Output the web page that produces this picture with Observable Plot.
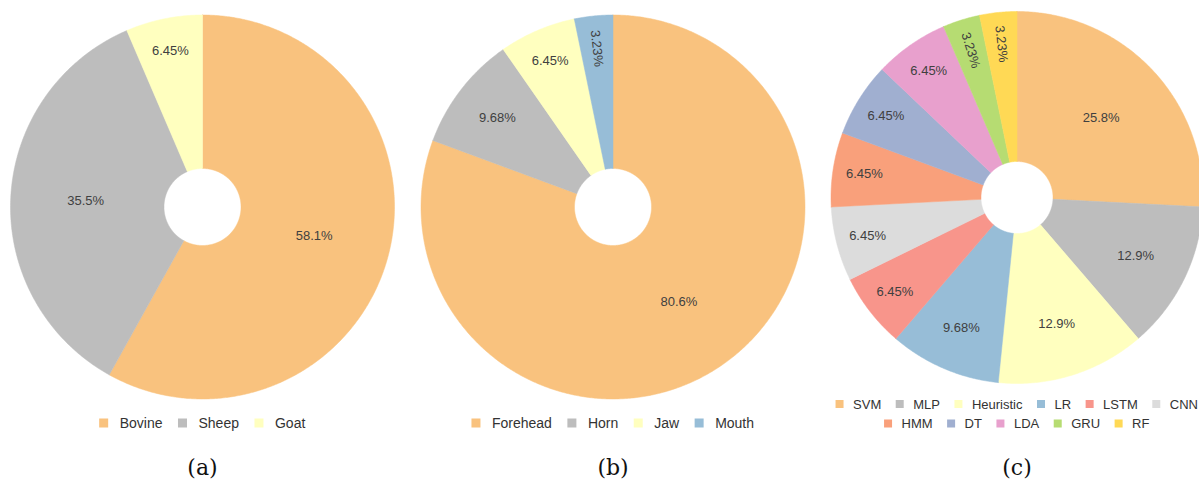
<!DOCTYPE html>
<html>
<head>
<meta charset="utf-8">
<script src="https://cdn.jsdelivr.net/npm/d3@7"></script>
<script src="https://cdn.jsdelivr.net/npm/@observablehq/plot@0.6"></script>
<style>
  html, body { margin: 0; padding: 0; background: #fff; }
  #chart { width: 1199px; height: 483px; }
</style>
</head>
<body>
<div id="chart"></div>
<script>
// ---------- data ----------
const animals = ["Bovine", "Sheep", "Goat"];
const animalShares = [58.1, 35.5, 6.45];

const parts = ["Forehead", "Horn", "Jaw", "Mouth"];
const partShares = [80.6, 9.68, 6.45, 3.23];

const methods = ["SVM", "MLP", "Heuristic", "LR", "LSTM", "CNN", "HMM", "DT", "LDA", "GRU", "RF"];
const methodShares = [25.8, 12.9, 12.9, 9.68, 6.45, 6.45, 6.45, 6.45, 6.45, 3.23, 3.23];

const captions = ["(a)", "(b)", "(c)"];

// ---------- styles ----------
const animalColors = ["#f9c27e", "#bdbdbd", "#ffffbf"];
const partColors = ["#f9c27e", "#bdbdbd", "#ffffbf", "#97bdd7"];
const methodColors = ["#f9c27e", "#bdbdbd", "#ffffbf", "#97bdd7", "#f8958b", "#dcdcdc",
                      "#f9a07b", "#a0afd0", "#e8a0cd", "#b6dc72", "#ffd955"];

const W = 1199, H = 483;
const labelColor = "#404040";
const sansFont = "'Liberation Sans', Arial, sans-serif";

// ---------- layout ----------
const panels = [
  {names: animals, shares: animalShares, colors: animalColors, cx: 202, cy: 206.5, R: 192, r: 38.5,
   rows: [3], rowY: [423], font: 14, sw: 9, gap: 11, itemGap: 16, caption: captions[0]},
  {names: parts, shares: partShares, colors: partColors, cx: 612.5, cy: 206.5, R: 192, r: 38.5,
   rows: [4], rowY: [423], font: 14, sw: 9, gap: 11, itemGap: 16, caption: captions[1]},
  {names: methods, shares: methodShares, colors: methodColors, cx: 1016.5, cy: 197, R: 186, r: 36,
   rows: [6, 5], rowY: [404, 423.5], font: 13, sw: 8, gap: 9, itemGap: 15, caption: captions[2]}
];

const ctx = document.createElement("canvas").getContext("2d");
function textWidth(t, size) { ctx.font = `${size}px 'Liberation Sans'`; return ctx.measureText(t).width; }

const slicePts = [], labels = [], swatches = [], legendText = [], captionText = [];
const colorDomain = [], colorRange = [];

panels.forEach((p, pi) => {
  const pie = d3.pie().sort(null).value(d => d)(p.shares);
  const total = d3.sum(p.shares);
  pie.forEach((s, i) => {
    const key = `${pi}-${i}`;
    const name = p.names[i];
    colorDomain.push(name + "#" + pi); colorRange.push(p.colors[i]);
    const cname = name + "#" + pi;
    const n = Math.max(2, Math.ceil((s.endAngle - s.startAngle) / (Math.PI / 360)));
    const pts = [];
    for (let k = 0; k <= n; k++) {
      const a = s.startAngle + (s.endAngle - s.startAngle) * k / n;
      pts.push({x: p.cx + p.R * Math.sin(a), y: p.cy - p.R * Math.cos(a)});
    }
    for (let k = n; k >= 0; k--) {
      const a = s.startAngle + (s.endAngle - s.startAngle) * k / n;
      pts.push({x: p.cx + p.r * Math.sin(a), y: p.cy - p.r * Math.cos(a)});
    }
    pts.push(pts[0]);
    pts.forEach(q => slicePts.push({...q, key, name: cname}));

    // label
    const f = p.shares[i] / total;
    const mid = (s.startAngle + s.endAngle) / 2;
    const rMid = (p.R + p.r) / 2, rOut = 0.83 * p.R;
    const t = Math.min(1, Math.exp(-(f - 0.0645) / 0.09));
    const lr = rMid + (rOut - rMid) * t;
    const deg = mid * 180 / Math.PI;
    labels.push({
      x: p.cx + lr * Math.sin(mid), y: p.cy - lr * Math.cos(mid),
      text: p.shares[i] + "%",
      rotate: f < 0.05 ? deg + 90 - 360 : 0
    });
  });

  // legend
  let start = 0;
  p.rows.forEach((count, ri) => {
    const items = p.names.slice(start, start + count).map((nm, j) => ({nm, idx: start + j}));
    const widths = items.map(it => textWidth(it.nm, p.font));
    const totalW = d3.sum(widths) + items.length * (p.sw + p.gap) + (items.length - 1) * p.itemGap;
    let x = p.cx - totalW / 2;
    const y = p.rowY[ri];
    items.forEach((it, j) => {
      swatches.push({x1: x, x2: x + p.sw, y1: y - p.sw / 2, y2: y + p.sw / 2, name: it.nm + "#" + pi});
      legendText.push({x: x + p.sw + p.gap, y, text: it.nm, size: p.font});
      x += p.sw + p.gap + widths[j] + p.itemGap;
    });
    start += count;
  });

  captionText.push({x: p.cx, y: 467, text: p.caption});
});

const chart = Plot.plot({
  width: W, height: H, margin: 0,
  x: {domain: [0, W], range: [0, W], axis: null},
  y: {domain: [0, H], range: [0, H], axis: null},
  color: {domain: colorDomain, range: colorRange},
  style: {fontFamily: sansFont, background: "#fff", overflow: "visible"},
  marks: [
    Plot.line(slicePts, {x: "x", y: "y", z: "key", fill: "name", stroke: "name", strokeWidth: 0.5, curve: "linear"}),
    Plot.text(labels, {x: "x", y: "y", text: "text", rotate: "rotate", fontSize: 13, fill: labelColor,
      textAnchor: "middle", lineAnchor: "middle"}),
    Plot.rect(swatches, {x1: "x1", x2: "x2", y1: "y1", y2: "y2", fill: "name"}),
    Plot.text(legendText.filter(d => d.size === 14), {x: "x", y: "y", text: "text", fontSize: 14, fill: "#333",
      textAnchor: "start", lineAnchor: "middle"}),
    Plot.text(legendText.filter(d => d.size === 13), {x: "x", y: "y", text: "text", fontSize: 13, fill: "#333",
      textAnchor: "start", lineAnchor: "middle"}),
    Plot.text(captionText, {x: "x", y: "y", text: "text", fontSize: 22, fill: "#111",
      fontFamily: "'DejaVu Serif', 'Liberation Serif', serif", textAnchor: "middle", lineAnchor: "middle"})
  ]
});
document.getElementById("chart").appendChild(chart);
</script>
</body>
</html>
